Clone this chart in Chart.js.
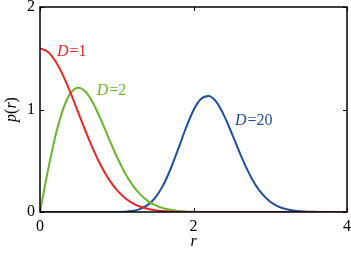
<!DOCTYPE html>
<html>
<head>
<meta charset="utf-8">
<script src="https://cdn.jsdelivr.net/npm/chart.js@4"></script>
<style>
  html, body { margin: 0; padding: 0; background: #fff; }
  #wrap { width: 351px; height: 253px; }
</style>
</head>
<body>
<div id="wrap"><canvas id="grafico"></canvas></div>
<script>
// r values (step 0.1) and p(r)
const radios = [0,0.1,0.2,0.3,0.4,0.5,0.6,0.7,0.8,0.9,1.0,1.1,1.2,1.3,1.4,1.5,1.6,1.7,1.8,1.9,2.0,
  2.1,2.2,2.3,2.4,2.5,2.6,2.7,2.8,2.9,3.0,3.1,3.2,3.3,3.4,3.5,3.6,3.7,3.8,3.9,4.0];
const pD1 = [1.596,1.564,1.473,1.333,1.159,0.968,0.777,0.599,0.444,0.316,0.216,0.142,0.090,0.054,0.032,0.018,0.0095,0.0049,0.0024,0.001,0.0005,
  0,0,0,0,0,0,0,0,0,0,0,0,0,0,0,0,0,0,0,0];
const pD2 = [0,0.392,0.738,1.002,1.162,1.213,1.168,1.051,0.890,0.712,0.541,0.391,0.269,0.177,0.111,0.067,0.038,0.021,0.011,0.0055,0.0027,
  0.001,0,0,0,0,0,0,0,0,0,0,0,0,0,0,0,0,0,0,0];
const pD20 = [0,0,0,0,0,0,0,0,0,0.0001,0.0008,0.0031,0.0101,0.0281,0.0669,0.139,0.255,0.417,0.613,0.817,0.993,
  1.104,1.131,1.071,0.938,0.765,0.582,0.413,0.274,0.171,0.100,0.055,0.0285,0.0139,0.0064,0.0028,0.0012,0.0005,0,0,0];
const xTicks = [0, 2, 4];
const yTicks = [0, 1, 2];

const etiquetas = [
  { txt: "1", x: 0.22, y: 1.56, color: "#e8262a" },
  { txt: "2", x: 0.74, y: 1.18, color: "#6cb42e" },
  { txt: "20", x: 2.54, y: 0.89, color: "#1f4e9c" }
];

const serie = (ys) => radios.map((r, i) => ({ x: r, y: ys[i] }));

// fija el area del grafico como en la figura original
const area = {
  id: "area",
  afterLayout(chart) {
    const a = chart.chartArea;
    a.left = 40; a.right = 347; a.top = 7; a.bottom = 212;
    a.width = a.right - a.left; a.height = a.bottom - a.top;
    const x = chart.scales.x, y = chart.scales.y;
    x.left = a.left; x.right = a.right; x.width = a.width; x.top = a.bottom; x.bottom = a.bottom + 41;
    y.top = a.top; y.bottom = a.bottom; y.height = a.height; y.left = 0; y.right = a.left;
    x.configure(); y.configure();
  }
};

const marco = {
  id: "marco",
  afterDraw(chart) {
    const { ctx, chartArea: a, scales } = chart;
    ctx.save();
    ctx.strokeStyle = "#000";
    ctx.lineWidth = 1.5;
    ctx.strokeRect(a.left, a.top, a.right - a.left, a.bottom - a.top);
    ctx.lineWidth = 1;
    xTicks.forEach(v => {
      const px = Math.round(scales.x.getPixelForValue(v)) + 0.5;
      ctx.beginPath();
      ctx.moveTo(px, a.bottom); ctx.lineTo(px, a.bottom - 4);
      ctx.moveTo(px, a.top); ctx.lineTo(px, a.top + 4);
      ctx.stroke();
    });
    yTicks.forEach(v => {
      const py = Math.round(scales.y.getPixelForValue(v)) + 0.5;
      ctx.beginPath();
      ctx.moveTo(a.left, py); ctx.lineTo(a.left + 4, py);
      ctx.moveTo(a.right, py); ctx.lineTo(a.right - 4, py);
      ctx.stroke();
    });

    // etiquetas de las curvas
    ctx.textBaseline = "middle";
    etiquetas.forEach(e => {
      let px = scales.x.getPixelForValue(e.x);
      const py = scales.y.getPixelForValue(e.y);
      ctx.fillStyle = e.color;
      ctx.font = "italic 16px 'Liberation Serif'";
      ctx.fillText("D", px, py);
      px += ctx.measureText("D").width + 1;
      ctx.font = "16px 'Liberation Serif'";
      ctx.fillText("=" + e.txt, px, py);
    });

    // titulos de ejes
    ctx.fillStyle = "#000";
    ctx.textAlign = "center";
    ctx.font = "italic 16px 'Liberation Serif'";
    ctx.fillText("r", (a.left + a.right) / 2, 242);

    ctx.translate(12, (a.top + a.bottom) / 2);
    ctx.rotate(-Math.PI / 2);
    const partes = [["p", "italic"], ["(", ""], ["r", "italic"], [")", ""]];
    let total = 0;
    partes.forEach(p => { ctx.font = (p[1] ? "italic " : "") + "16px 'Liberation Serif'"; total += ctx.measureText(p[0]).width; });
    ctx.textAlign = "left";
    let cx = -total / 2;
    partes.forEach(p => {
      ctx.font = (p[1] ? "italic " : "") + "16px 'Liberation Serif'";
      ctx.fillText(p[0], cx, 0);
      cx += ctx.measureText(p[0]).width;
    });
    ctx.restore();
  }
};

const linea = (data, color) => ({
  data: serie(data),
  borderColor: color,
  borderWidth: 2,
  pointRadius: 0,
  fill: false,
  cubicInterpolationMode: "monotone"
});

new Chart(document.getElementById("grafico"), {
  type: "line",
  data: {
    datasets: [
      linea(pD1, "#e8262a"),
      linea(pD2, "#6cb42e"),
      linea(pD20, "#1f4e9c")
    ]
  },
  options: {
    responsive: true,
    maintainAspectRatio: false,
    animation: false,
    plugins: { legend: { display: false }, tooltip: { enabled: false } },
    scales: {
      x: {
        type: "linear", min: 0, max: 4,
        grid: { display: false, drawTicks: false },
        border: { display: false },
        afterBuildTicks: s => { s.ticks = xTicks.map(v => ({ value: v })); },
        ticks: { color: "#000", padding: 5, font: { family: "'Liberation Serif'", size: 16 } }
      },
      y: {
        min: 0, max: 2,
        grid: { display: false, drawTicks: false },
        border: { display: false },
        afterBuildTicks: s => { s.ticks = yTicks.map(v => ({ value: v })); },
        ticks: { color: "#000", padding: 5, font: { family: "'Liberation Serif'", size: 16 } }
      }
    }
  },
  plugins: [area, marco]
});
</script>
</body>
</html>
